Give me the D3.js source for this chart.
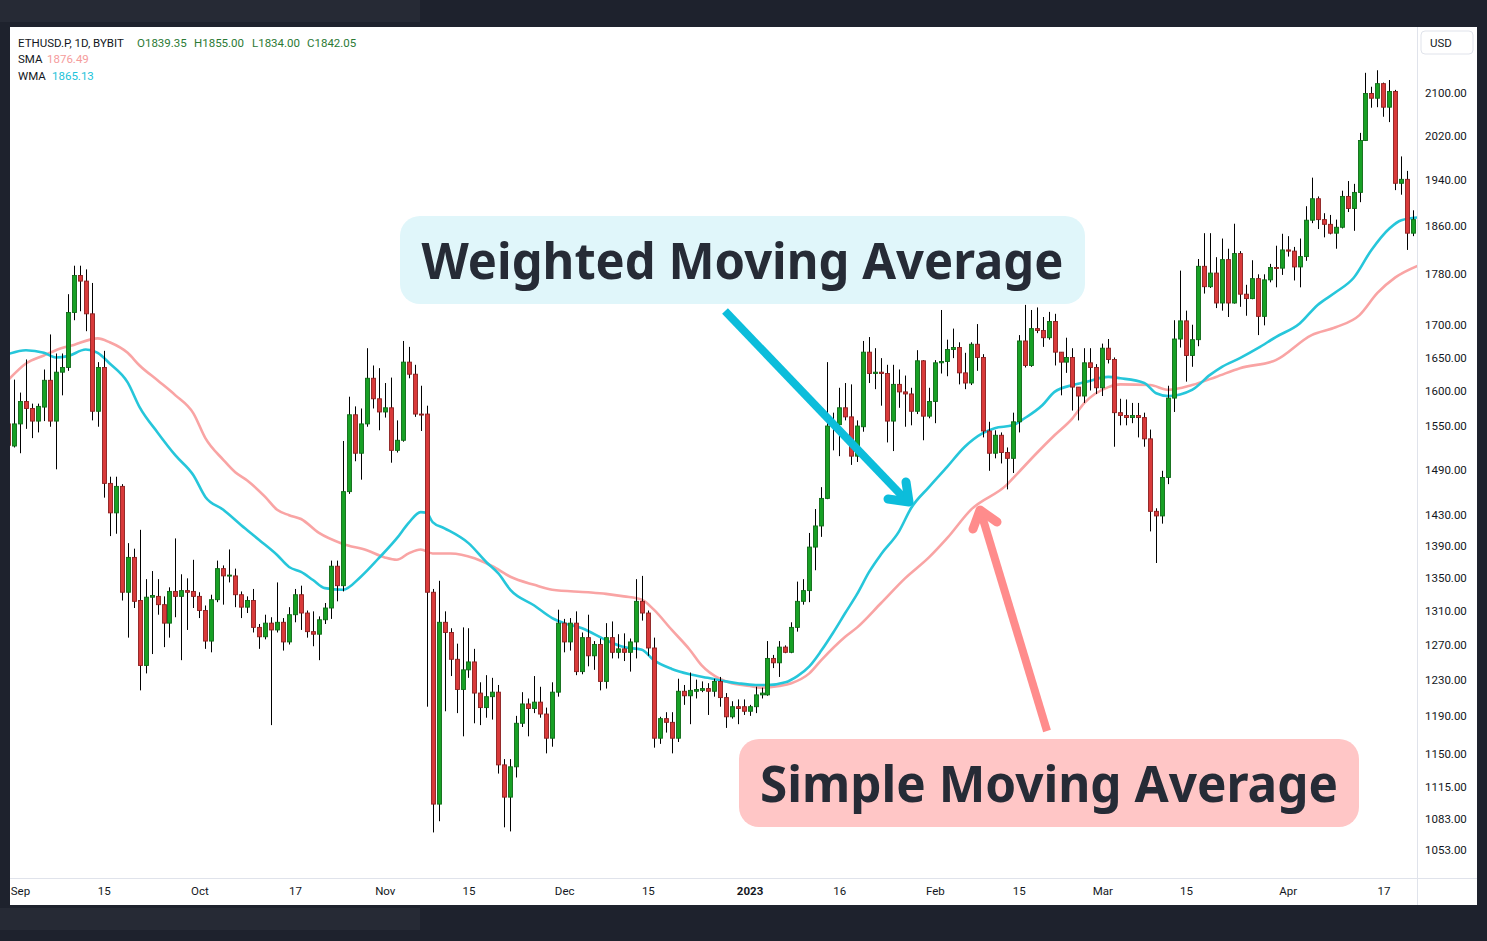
<!DOCTYPE html>
<html>
<head>
<meta charset="utf-8">
<script src="https://cdnjs.cloudflare.com/ajax/libs/d3/7.8.5/d3.min.js"></script>
<style>
  body { margin: 0; background: #1e222d; }
  svg { display: block; }
  .tick text { font-family: Roboto, "Liberation Sans", sans-serif; font-size: 11.5px; fill: #131722; }
</style>
</head>
<body>
<svg id="chart" width="1487" height="941"></svg>
<script>
// ---- data (ETHUSD.P daily, first candle = 30 Aug 2022) ----
var opens = [1553,1522,1553,1585,1575,1557,1577,1616,1557,1628,1635,1719,1778,1769,1717,1571,1635,1471,1432,1467,1332,1375,1322,1246,1326,1327,1317,1295,1333,1327,1334,1333,
  1327,1310,1274,1323,1361,1352,1352,1329,1314,1322,1290,1279,1295,1287,1296,1273,1305,1329,1307,1285,1282,1299,1313,1364,1340,1460,1566,1512,1553,1619,1589,
  1570,1576,1516,1530,1643,1625,1567,1567,1332,1098,1296,1284,1253,1219,1241,1250,1215,1199,1211,1216,1138,1105,1136,1182,1203,1198,1205,1192,1166,1216,
  1295,1273,1295,1239,1278,1257,1270,1228,1278,1261,1265,1261,1273,1321,1307,1266,1166,1187,1183,1166,1217,1212,1217,1218,1220,1217,1228,1210,1189,1200,1200,
  1195,1200,1213,1213,1254,1249,1267,1261,1290,1321,1334,1388,1415,1451,1550,1552,1576,1563,1508,1549,1658,1626,1628,1626,1557,1610,1599,1596,1571,1645,1564,
  1585,1642,1644,1662,1665,1627,1612,1670,1650,1543,1512,1537,1513,1505,1556,1675,1638,1694,1691,1680,1705,1658,1643,1650,1606,1593,1642,1635,
  1605,1664,1647,1569,1565,1562,1565,1562,1532,1434,1428,1479,1590,1678,1706,1653,1677,1793,1760,1782,1734,1804,1734,1814,1748,1741,1773,1713,1771,1791,1790,
  1820,1818,1792,1809,1870,1907,1871,1863,1848,1858,1911,1890,1918,2011,2099,2090,2118,2073,2103,1934,1941,1848];
var highs = [1580,1617,1598,1647,1582,1582,1632,1685,1656,1656,1748,1794,1794,1788,1766,1643,1660,1480,1480,1470,1393,1386,1410,1348,1358,1348,1327,1338,1399,1354,1349,1372,
  1332,1316,1329,1371,1365,1385,1361,1333,1327,1336,1294,1305,1302,1344,1301,1314,1336,1340,1310,1309,1303,1319,1371,1371,1529,1592,1578,1575,1664,1638,1634,
  1612,1620,1558,1675,1666,1639,1608,1579,1336,1346,1309,1289,1271,1290,1289,1265,1227,1235,1232,1224,1144,1144,1190,1216,1209,1234,1222,1199,1227,1311,
  1300,1301,1309,1284,1305,1274,1277,1295,1297,1282,1283,1277,1348,1352,1310,1278,1189,1194,1194,1231,1224,1238,1230,1228,1226,1231,1233,1215,1206,1208,1208,
  1202,1222,1221,1274,1258,1274,1269,1296,1345,1348,1406,1437,1466,1643,1569,1605,1612,1610,1558,1675,1681,1664,1649,1639,1639,1632,1623,1605,1661,1646,
  1605,1646,1723,1677,1694,1673,1657,1673,1701,1655,1556,1544,1541,1520,1569,1684,1731,1723,1727,1712,1720,1717,1658,1680,1664,1606,1664,1664,1640,
  1671,1678,1650,1589,1588,1583,1583,1569,1545,1438,1488,1608,1707,1786,1722,1700,1805,1848,1848,1808,1839,1822,1864,1818,1763,1803,1780,1780,1797,1827,1847,
  1843,1825,1839,1894,1944,1911,1882,1879,1871,1921,1938,1933,2025,2139,2112,2144,2120,2125,2106,1982,1956,1887];
var lows = [1500,1520,1512,1546,1533,1541,1557,1549,1490,1594,1630,1707,1721,1690,1558,1549,1452,1402,1405,1322,1278,1313,1218,1237,1259,1305,1267,1278,1302,1252,1287,1313,
  1301,1265,1261,1320,1317,1344,1314,1301,1307,1284,1265,1276,1180,1284,1263,1270,1296,1287,1278,1268,1252,1294,1300,1321,1333,1457,1501,1476,1549,1575,1544,
  1562,1499,1513,1528,1619,1563,1543,1200,1070,1081,1195,1234,1193,1168,1232,1182,1180,1188,1186,1129,1075,1071,1125,1178,1168,1193,1188,1150,1157,1211,
  1261,1263,1235,1236,1245,1241,1218,1220,1254,1254,1251,1239,1254,1298,1257,1156,1160,1172,1150,1162,1202,1181,1209,1216,1191,1211,1200,1177,1187,1181,1191,
  1190,1193,1209,1212,1243,1233,1260,1260,1285,1317,1320,1359,1401,1450,1516,1508,1558,1496,1500,1542,1612,1603,1579,1527,1515,1576,1549,1551,1567,1530,
  1561,1554,1626,1622,1649,1610,1603,1609,1630,1534,1488,1505,1498,1463,1485,1541,1635,1636,1687,1666,1677,1638,1594,1627,1572,1558,1583,1601,1596,
  1593,1641,1521,1551,1551,1554,1534,1521,1408,1368,1418,1470,1570,1665,1614,1636,1667,1749,1758,1726,1722,1712,1733,1728,1714,1740,1684,1699,1767,1759,1779,
  1809,1770,1759,1802,1865,1855,1841,1846,1822,1856,1884,1852,1901,2010,2072,2073,2055,2045,1922,1914,1820,1843];
var closes = [1523,1553,1585,1575,1557,1578,1616,1557,1628,1635,1719,1778,1769,1717,1571,1635,1471,1432,1467,1332,1375,1321,1246,1326,1328,1317,1295,1333,1327,1334,1332,1327,
  1310,1274,1323,1361,1352,1353,1329,1314,1322,1290,1279,1295,1287,1296,1273,1305,1329,1307,1285,1282,1299,1313,1364,1340,1460,1566,1512,1553,1619,1589,1570,
  1576,1516,1530,1643,1625,1567,1566,1332,1098,1296,1284,1253,1219,1241,1250,1215,1199,1211,1216,1138,1105,1136,1182,1203,1198,1205,1192,1166,1216,1295,
  1273,1295,1239,1278,1257,1270,1228,1278,1261,1265,1261,1273,1321,1307,1266,1166,1187,1183,1166,1217,1212,1218,1219,1220,1217,1228,1210,1189,1200,1198,1195,
  1200,1213,1215,1254,1249,1267,1261,1290,1321,1334,1388,1415,1451,1550,1552,1576,1563,1508,1550,1658,1626,1628,1626,1557,1610,1599,1596,1571,1645,1564,1585,
  1642,1644,1662,1665,1627,1612,1670,1650,1543,1512,1537,1513,1505,1556,1675,1638,1694,1691,1680,1705,1658,1643,1650,1606,1593,1642,1635,1605,
  1664,1647,1569,1565,1562,1565,1562,1532,1434,1428,1479,1590,1678,1706,1653,1677,1793,1760,1782,1734,1804,1734,1814,1748,1741,1773,1713,1771,1791,1790,1820,
  1818,1792,1809,1870,1907,1871,1863,1848,1858,1911,1890,1918,2011,2099,2090,2118,2073,2103,1934,1941,1848,1871];

// moving averages: [day offset from 31 Aug 2022, value]
var wmaPoints = [[-1,1655],[2,1661],[5,1657],[7,1650],[9,1652],[12,1662],[14,1657],[16,1641],[19,1613],[21,1577],[24,1541],[27,1509],[30,1482],
  [32,1453],[35,1436],[38,1416],[41,1397],[44,1378],[46,1363],[48,1357],[50,1347],[52,1337],[55,1335],[58,1351],[61,1374],[64,1399],[66,1419],
  [68,1433],[69,1432],[70,1420],[72,1412],[76,1393],[79,1369],[81,1355],[83,1335],[87,1316],[90,1301],[92,1295],[95,1289],[99,1275],[102,1267],
  [105,1264],[107,1252],[110,1242],[113,1236],[116,1232],[119,1228],[121,1226],[124,1224],[126,1224],[129,1227],[131,1234],[133,1245],[135,1263],
  [137,1284],[139,1307],[141,1330],[143,1357],[145,1379],[148,1408],[150,1438],[153,1466],[156,1493],[159,1521],[162,1540],[164,1547],[167,1551],
  [169,1561],[172,1580],[174,1599],[177,1609],[179,1613],[183,1621],[185,1619],[189,1612],[191,1597],[193,1593],[197,1602],[200,1624],[202,1636],
  [205,1649],[208,1664],[211,1681],[215,1702],[218,1731],[221,1751],[224,1774],[227,1820],[230,1856],[232,1870],[235,1875]];
var smaPoints = [[-1,1616],[2,1641],[5,1653],[7,1661],[10,1669],[14,1679],[16,1673],[19,1657],[21,1638],[24,1616],[27,1594],[30,1568],[32,1533],
  [35,1503],[37,1486],[39,1475],[42,1453],[44,1436],[46,1429],[48,1424],[51,1406],[55,1392],[59,1384],[62,1375],[64,1372],[66,1380],[68,1385],
  [70,1380],[73,1380],[77,1374],[80,1364],[83,1351],[87,1341],[90,1335],[96,1332],[99,1330],[102,1327],[105,1323],[107,1311],[110,1287],[113,1264],
  [115,1246],[118,1231],[120,1226],[123,1223],[125,1221],[128,1223],[130,1226],[133,1237],[135,1252],[139,1279],[141,1290],[145,1319],[149,1349],
  [153,1375],[156,1399],[160,1436],[166,1469],[168,1486],[171,1512],[174,1537],[177,1561],[179,1583],[183,1606],[185,1610],[190,1609],[193,1602],
  [197,1609],[201,1621],[205,1634],[211,1646],[217,1684],[221,1696],[225,1715],[228,1750],[231,1775],[235,1795]];

var priceTicks = [2100, 2020, 1940, 1860, 1780, 1700, 1650, 1600, 1550, 1490, 1430, 1390, 1350, 1310, 1270, 1230, 1190, 1150, 1115, 1083, 1053];
var dateTicks = ["2022-09-01","2022-09-15","2022-10-01","2022-10-17","2022-11-01","2022-11-15","2022-12-01","2022-12-15",
  "2023-01-01","2023-01-16","2023-02-01","2023-02-15","2023-03-01","2023-03-15","2023-04-01","2023-04-17"];
var dateLabels = ["Sep","15","Oct","17","Nov","15","Dec","15","2023","16","Feb","15","Mar","15","Apr","17"];

// ---- setup ----
var DAY = 864e5;
var origin = Date.UTC(2022, 7, 31);
function day(n) { return new Date(origin + n * DAY); }

var svg = d3.select("#chart");
var plot = { left: 10, top: 27, right: 1417, bottom: 878 };

var x = d3.scaleUtc().domain([day(0), day(234)]).range([14, 14 + 234 * 5.98]);
var y = d3.scaleLog().domain([1053, 2100]).range([850, 93]);

// frame
svg.append("rect").attr("x", 0).attr("y", 0).attr("width", 420).attr("height", 22).attr("fill", "#262a35");
svg.append("rect").attr("x", 0).attr("y", 908).attr("width", 420).attr("height", 22).attr("fill", "#262a35");
svg.append("rect").attr("x", 10).attr("y", 27).attr("width", 1467).attr("height", 878).attr("fill", "#ffffff");

svg.append("defs").append("clipPath").attr("id", "plotclip")
  .append("rect").attr("x", plot.left).attr("y", plot.top)
  .attr("width", plot.right - plot.left).attr("height", plot.bottom - plot.top);

var g = svg.append("g").attr("clip-path", "url(#plotclip)");

// moving averages (under the candles)
var line = d3.line()
  .x(function (d) { return x(day(d[0])); })
  .y(function (d) { return y(d[1]); })
  .curve(d3.curveMonotoneX);

g.append("path").datum(smaPoints).attr("d", line)
  .attr("fill", "none").attr("stroke", "#f9a4a4").attr("stroke-width", 2.6);
g.append("path").datum(wmaPoints).attr("d", line)
  .attr("fill", "none").attr("stroke", "#26c6da").attr("stroke-width", 2.6);

// candles
var candles = opens.map(function (o, i) {
  return { t: day(i - 1), o: o, h: highs[i], l: lows[i], c: closes[i] };
});

g.selectAll(".wick").data(candles).enter()
  .append("line")
  .attr("class", "wick")
  .attr("x1", function (d) { return Math.round(x(d.t)) + 0.5; })
  .attr("x2", function (d) { return Math.round(x(d.t)) + 0.5; })
  .attr("y1", function (d) { return y(d.h); })
  .attr("y2", function (d) { return y(d.l); })
  .attr("stroke", "#000").attr("stroke-width", 1);

g.selectAll(".body").data(candles).enter()
  .append("rect")
  .attr("class", "body")
  .attr("x", function (d) { return Math.round(x(d.t)) - 1.5; })
  .attr("width", 4)
  .attr("y", function (d) { return y(Math.max(d.o, d.c)); })
  .attr("height", function (d) { return Math.max(1, Math.abs(y(d.o) - y(d.c))); })
  .attr("fill", function (d) { return d.c >= d.o ? "#17a025" : "#d93a3a"; })
  .attr("stroke", function (d) { return d.c >= d.o ? "#0f6b17" : "#8c1f1f"; })
  .attr("stroke-width", 0.9);

// axes
svg.append("line").attr("x1", 1417.5).attr("x2", 1417.5).attr("y1", 27).attr("y2", 905)
  .attr("stroke", "#e0e3eb");
svg.append("line").attr("x1", 10).attr("x2", 1477).attr("y1", 878.5).attr("y2", 878.5)
  .attr("stroke", "#e0e3eb");

var yAxis = svg.append("g").attr("transform", "translate(1425,0)")
  .call(d3.axisRight(y).tickValues(priceTicks).tickSize(0).tickPadding(0)
    .tickFormat(function (d) { return d.toFixed(2); }));
yAxis.select(".domain").remove();

var parseDay = d3.utcParse("%Y-%m-%d");
var xAxis = svg.append("g").attr("transform", "translate(0,887)")
  .call(d3.axisBottom(x).tickValues(dateTicks.map(parseDay)).tickSize(0).tickPadding(0)
    .tickFormat(function (d, i) { return dateLabels[i]; }));
xAxis.select(".domain").remove();
xAxis.selectAll("text").filter(function (d, i) { return dateLabels[i] === "2023"; })
  .style("font-weight", "bold");

// USD box
svg.append("rect").attr("x", 1421).attr("y", 31).attr("width", 52).attr("height", 23).attr("rx", 4)
  .attr("fill", "#fff").attr("stroke", "#e0e3eb");
svg.append("text").attr("x", 1430).attr("y", 47).text("USD")
  .attr("font-family", "Roboto, sans-serif").attr("font-size", 11.5).attr("fill", "#131722");

// legend
var legend = svg.append("g").attr("font-family", "Roboto, sans-serif").attr("font-size", 11.5);
var legendRows = [
  [[18, "ETHUSD.P, 1D, BYBIT", "#131722"], [137, "O1839.35", "#2b7a35"], [194, "H1855.00", "#2b7a35"],
   [252, "L1834.00", "#2b7a35"], [307, "C1842.05", "#2b7a35"]],
  [[18, "SMA", "#131722"], [47, "1876.49", "#f59c9c"]],
  [[18, "WMA", "#131722"], [52, "1865.13", "#22c3d9"]]
];
legendRows.forEach(function (row, r) {
  row.forEach(function (p) {
    legend.append("text").attr("x", p[0]).attr("y", 46.5 + r * 16.8).attr("fill", p[2]).text(p[1]);
  });
});

// annotations
var ann = svg.append("g");

function arrow(color, shaft, head) {
  ann.append("line")
    .attr("x1", shaft[0][0]).attr("y1", shaft[0][1]).attr("x2", shaft[1][0]).attr("y2", shaft[1][1])
    .attr("stroke", color).attr("stroke-width", 8);
  ann.append("path").attr("d", d3.line()(head))
    .attr("fill", "none").attr("stroke", color).attr("stroke-width", 9)
    .attr("stroke-linecap", "round").attr("stroke-linejoin", "round");
}
arrow("#0cbddb", [[725, 311], [906, 500]], [[888, 499], [909, 502], [906, 482]]);
arrow("#ff8c8c", [[1047, 731], [982, 516]], [[973, 529], [980, 510], [997, 522]]);

function label(txt, bx, by, bw, bh, fill, width) {
  ann.append("rect").attr("x", bx).attr("y", by).attr("width", bw).attr("height", bh)
    .attr("rx", 20).attr("fill", fill);
  ann.append("text").attr("x", bx + bw / 2).attr("y", by + bh / 2 + 18.5)
    .attr("text-anchor", "middle")
    .attr("font-family", "'Noto Sans', 'Open Sans', sans-serif").attr("font-weight", 700)
    .attr("font-size", 51).attr("fill", "#262b36")
    .attr("textLength", width).attr("lengthAdjust", "spacingAndGlyphs")
    .text(txt);
}
label("Weighted Moving Average", 400, 216, 685, 88, "#e0f6fa", 642);
label("Simple Moving Average", 739, 739, 620, 88, "#ffc6c6", 578);
</script>
</body>
</html>
